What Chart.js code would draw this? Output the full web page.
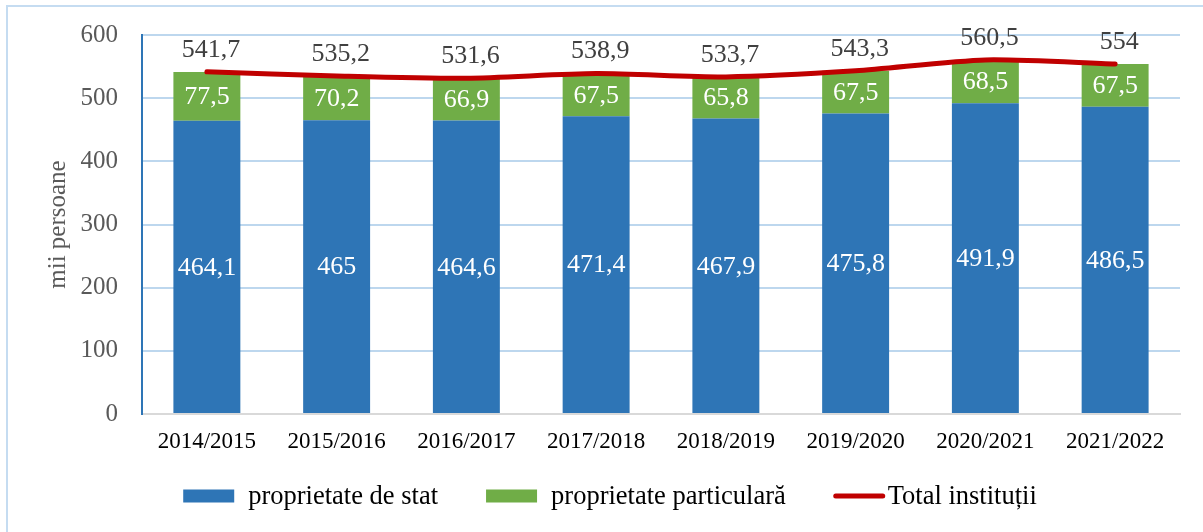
<!DOCTYPE html>
<html>
<head>
<meta charset="utf-8">
<script src="https://cdn.jsdelivr.net/npm/chart.js@4.4.1/dist/chart.umd.min.js"></script>
<style>
  html, body { margin: 0; padding: 0; background: #fff; }
  canvas { display: block; }
</style>
</head>
<body>
<canvas id="chart" width="1203" height="532"></canvas>
<script>
// Data
const years = ['2014/2015', '2015/2016', '2016/2017', '2017/2018', '2018/2019', '2019/2020', '2020/2021', '2021/2022'];
const stateValues = [464.1, 465, 464.6, 471.4, 467.9, 475.8, 491.9, 486.5];
const privateValues = [77.5, 70.2, 66.9, 67.5, 65.8, 67.5, 68.5, 67.5];
const totalValues = [541.7, 535.2, 531.6, 538.9, 533.7, 543.3, 560.5, 554];
const yMin = 0, yMax = 600, yStep = 100;

const serif = "'Liberation Serif', 'Times New Roman', serif";

function fmt(v) {
  return String(v).replace('.', ',');
}

// light blue frame round the chart (top and left edges visible)
const framePlugin = {
  id: 'frame',
  beforeDraw(chart) {
    const ctx = chart.ctx;
    ctx.save();
    ctx.strokeStyle = '#c5dcf1';
    ctx.lineWidth = 2;
    ctx.beginPath();
    ctx.moveTo(7, chart.height);
    ctx.lineTo(7, 6);
    ctx.lineTo(chart.width, 6);
    ctx.stroke();
    ctx.restore();
  }
};

// value labels: centred in bar segments, above the line points
const valueLabels = {
  id: 'valueLabels',
  afterDatasetsDraw(chart) {
    const ctx = chart.ctx;
    ctx.save();
    ctx.textAlign = 'center';
    ctx.textBaseline = 'middle';
    ctx.font = '26px ' + serif;
    chart.data.datasets.forEach((ds, i) => {
      const meta = chart.getDatasetMeta(i);
      meta.data.forEach((el, j) => {
        const v = ds.data[j];
        if (ds.type === 'line') {
          ctx.fillStyle = '#404040';
          ctx.fillText(fmt(v), el.x + 4, el.y - 22);
        } else {
          ctx.fillStyle = '#ffffff';
          ctx.fillText(fmt(v), el.x, (el.y + el.base) / 2 + 1);
        }
      });
    });
    ctx.restore();
  }
};

// legend drawn by hand under the axis
const legendPlugin = {
  id: 'bottomLegend',
  afterDraw(chart) {
    const ctx = chart.ctx;
    const y = 496;
    const boxW = 51, boxH = 13;
    ctx.save();
    ctx.font = '26.5px ' + serif;
    ctx.textBaseline = 'middle';
    const items = chart.data.datasets.map(ds => {
      const isLine = ds.type === 'line';
      const gap = isLine ? 3 : 14;
      return {
        text: ds.label,
        color: isLine ? ds.borderColor : ds.backgroundColor,
        isLine: isLine,
        gap: gap,
        width: boxW + gap + ctx.measureText(ds.label).width
      };
    });
    const spacing = 48;
    const total = items.reduce((s, it) => s + it.width, 0) + spacing * (items.length - 1);
    let x = 610 - total / 2;
    items.forEach(it => {
      if (it.isLine) {
        ctx.strokeStyle = it.color;
        ctx.lineWidth = 5;
        ctx.lineCap = 'round';
        ctx.beginPath();
        ctx.moveTo(x + 2, y);
        ctx.lineTo(x + boxW - 2, y);
        ctx.stroke();
      } else {
        ctx.fillStyle = it.color;
        ctx.fillRect(x, y - boxH / 2, boxW, boxH);
      }
      ctx.fillStyle = '#000000';
      ctx.fillText(it.text, x + boxW + it.gap, y + 1);
      x += it.width + spacing;
    });
    ctx.restore();
  }
};

const ctx = document.getElementById('chart').getContext('2d');
const chart = new Chart(ctx, {
  data: {
    labels: years,
    datasets: [
      {
        type: 'bar',
        label: 'proprietate de stat',
        data: stateValues,
        backgroundColor: '#2e75b6',
        stack: 'bars',
        order: 2,
        barPercentage: 0.516,
        categoryPercentage: 1
      },
      {
        type: 'bar',
        label: 'proprietate particulară',
        data: privateValues,
        backgroundColor: '#70ad47',
        stack: 'bars',
        order: 2,
        barPercentage: 0.516,
        categoryPercentage: 1
      },
      {
        type: 'line',
        label: 'Total instituții',
        data: totalValues,
        borderColor: '#c00000',
        borderWidth: 5,
        borderCapStyle: 'round',
        borderJoinStyle: 'round',
        tension: 0.25,
        pointRadius: 0,
        fill: false,
        stack: 'total',
        order: 1
      }
    ]
  },
  options: {
    responsive: false,
    animation: false,
    layout: {
      padding: { left: 0, right: 23, top: 35, bottom: 0 }
    },
    plugins: {
      legend: { display: false },
      tooltip: { enabled: false }
    },
    scales: {
      x: {
        stacked: true,
        grid: { display: false, drawTicks: false },
        border: { color: '#d9d9d9', width: 2 },
        ticks: {
          color: '#000000',
          font: { family: serif, size: 23 },
          padding: 14,
          maxRotation: 0
        },
        afterFit(scale) {
          scale.height = 118;
        }
      },
      y: {
        stacked: true,
        min: yMin,
        max: yMax,
        grid: {
          color: ctx => ctx.tick && ctx.tick.value === 0 ? '#d9d9d9' : '#bdd7ee',
          lineWidth: 2,
          drawTicks: true,
          tickLength: 24,
          tickColor: 'rgba(0,0,0,0)'
        },
        border: { color: '#2e75b6', width: 2 },
        ticks: {
          stepSize: yStep,
          color: '#595959',
          font: { family: serif, size: 25 },
          padding: 0
        },
        title: {
          display: true,
          text: 'mii persoane',
          color: '#595959',
          font: { family: serif, size: 25 },
          padding: { top: 43, bottom: 0 }
        },
        afterFit(scale) {
          scale.width = 142;
        }
      }
    }
  },
  plugins: [framePlugin, valueLabels, legendPlugin]
});
</script>
</body>
</html>
